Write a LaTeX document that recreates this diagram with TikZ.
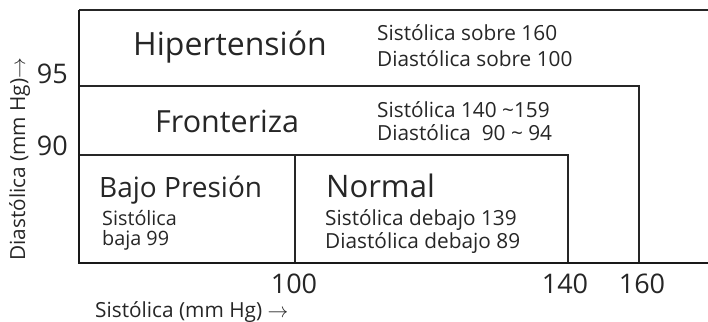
\documentclass[tikz,border=0pt]{standalone}
\usepackage{fontspec}
\setmainfont{Open Sans}
\newcommand{\tld}{\char126\relax}
\begin{document}
\begin{tikzpicture}[x=1pt,y=-1pt,
  frame/.style={draw=black!85,line width=1.3pt},
  axisline/.style={draw=black!90,line width=2pt},
  txt/.style={inner sep=0pt,text=black!85},
  big/.style={txt,anchor=base west,font=\fontsize{29}{32}\selectfont},
  small/.style={txt,anchor=base west,font=\fontsize{20.8}{24}\selectfont},
  num/.style={txt,anchor=base,text depth=0pt,font=\fontsize{27}{30}\selectfont}]
\useasboundingbox (0,0) rectangle (708,321);
% corner coordinates
\coordinate (tl) at (79,10);
\coordinate (tr) at (708,10);
\coordinate (o) at (79,263);
\coordinate (br) at (708,263);
\coordinate (h1) at (79,86);
\coordinate (h2) at (639,86);
\coordinate (h3) at (639,263);
\coordinate (f1) at (79,155);
\coordinate (f2) at (568,155);
\coordinate (f3) at (568,263);
\coordinate (n1) at (295,155);
\coordinate (n2) at (295,263);
% lines
\draw[frame] (tl) -- (tr);
\draw[frame] (h1) -- (h2) -- (h3);
\draw[frame] (f1) -- (f2) -- (f3);
\draw[frame] (n1) -- (n2);
\draw[axisline] (tl) -- (o) -- (br);
% region labels
\node[big,font=\fontsize{32}{34}\selectfont] (hip) at (133,56) {Hipertensión};
\node[big,font=\fontsize{30.5}{32}\selectfont] (fro) at (155,132) {Fronteriza};
\node[big,font=\fontsize{28}{32}\selectfont] (baj) at (99,197) {Bajo Presión};
\node[big,font=\fontsize{31}{32}\selectfont] (nor) at (326,197) {Normal};
% descriptions
\node[small] (h1t) at (377,41) {Sistólica sobre 160};
\node[small] (h2t) at (377,66) {Diastólica sobre 100};
\node[small] (f1t) at (377,117) {Sistólica 140 \tld159};
\node[small] (f2t) at (377,140) {Diastólica\ \ 90 \tld{} 94};
\node[small,font=\fontsize{19.8}{24}\selectfont] (b1t) at (102,225) {Sistólica};
\node[small,font=\fontsize{19.8}{24}\selectfont] (b2t) at (102,245) {baja 99};
\node[small] (n1t) at (325,225) {Sistólica debajo 139};
\node[small] (n2t) at (325,248) {Diastólica debajo 89};
% axis numbers
\node[num,anchor=base east] (y95) at (68,83) {95};
\node[num,anchor=base east] (y90) at (68,155) {90};
\node[num] (x100) at (294,293) {100};
\node[num] (x140) at (565,293) {140};
\node[num] (x160) at (642,293) {160};
% axis titles
\node[small,anchor=base west] (xlab) at (95,317) {Sistólica (mm Hg) $\rightarrow$};
\node[small,anchor=base west,rotate=90] (ylab) at (25,261) {Diastólica (mm Hg)$\rightarrow$};
\end{tikzpicture}
\end{document}
